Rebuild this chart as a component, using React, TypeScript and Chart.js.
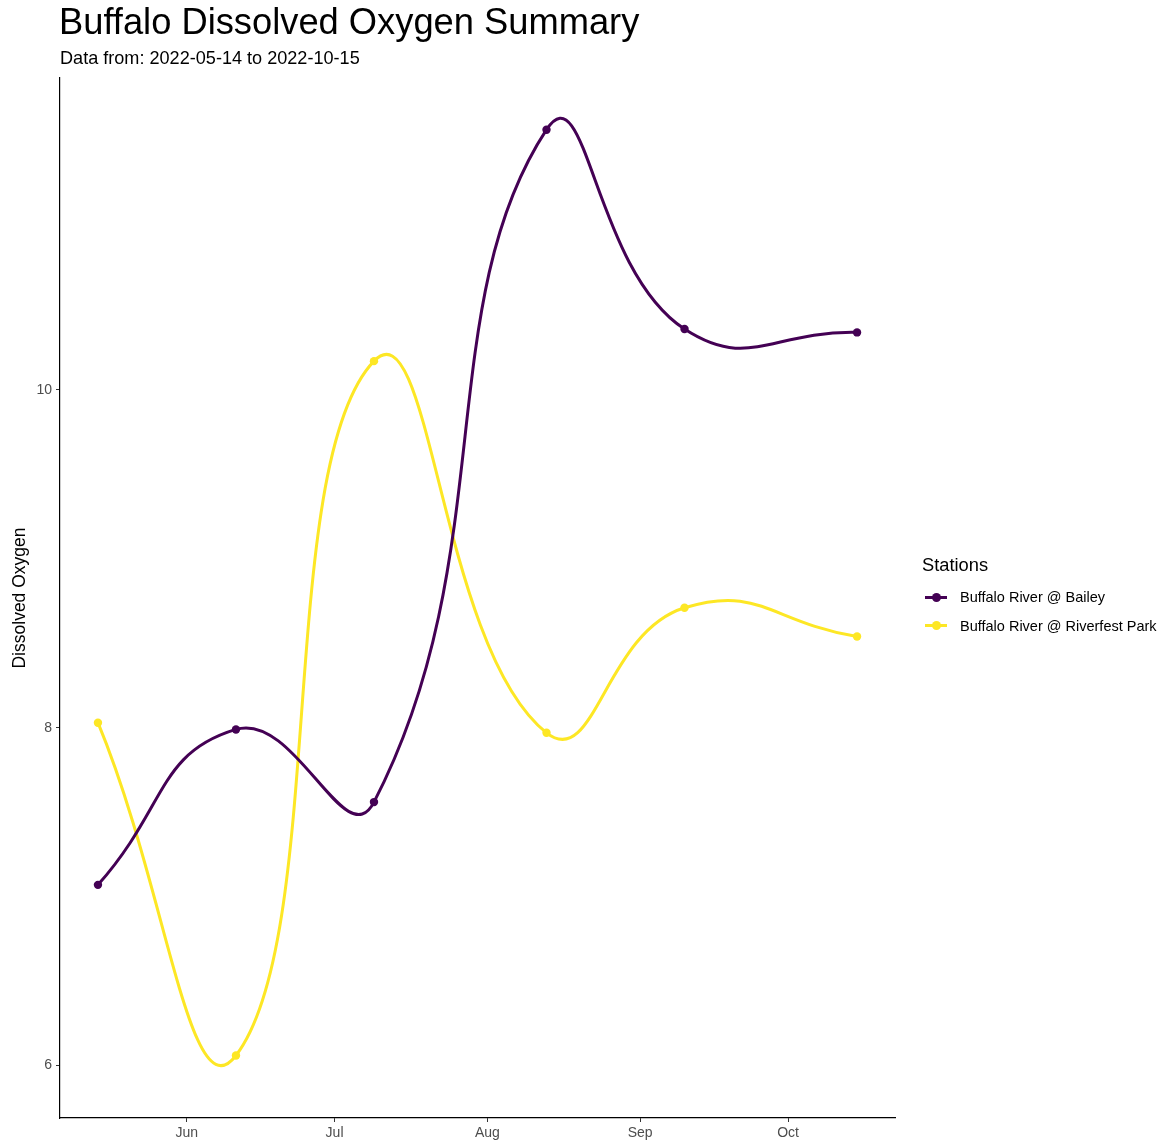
import React, { useEffect, useRef } from "react";
import { Chart, registerables } from "chart.js";

Chart.register(...registerables);

// Day-of-year (2022) for each sample date
const sampleDays = [134, 162, 190, 225, 253, 288]; // 05-14, 06-11, 07-09, 08-13, 09-10, 10-15
const baileyValues = [7.07, 7.99, 7.56, 11.54, 10.36, 10.34];
const riverfestValues = [8.03, 6.06, 10.17, 7.97, 8.71, 8.54];
const monthTickDays = [152, 182, 213, 244, 274];
const monthTickLabels = ["Jun", "Jul", "Aug", "Sep", "Oct"];
const yTickValues = [6, 8, 10];

const seriesNames = ["Buffalo River @ Bailey", "Buffalo River @ Riverfest Park"];
const seriesColors = ["#440154", "#FDE725"];

const FONT = "'Liberation Sans', Arial, Helvetica, sans-serif";

export default function App() {
  const canvasRef = useRef<HTMLCanvasElement | null>(null);

  useEffect(() => {
    const canvas = canvasRef.current;
    if (!canvas) return;
    const seriesValues = [baileyValues, riverfestValues];
    const chart = new Chart(canvas, {
      type: "line",
      data: {
        datasets: seriesNames.map((name, i) => ({
          label: name,
          data: sampleDays.map((d, j) => ({ x: d, y: seriesValues[i][j] })),
          borderColor: seriesColors[i],
          backgroundColor: seriesColors[i],
          pointBackgroundColor: seriesColors[i],
          pointBorderColor: seriesColors[i],
          pointRadius: 4.2,
          pointBorderWidth: 0,
          borderWidth: 3,
          tension: 0.5,
          fill: false,
        })),
      },
      options: {
        animation: false,
        responsive: false,
        maintainAspectRatio: false,
        layout: { padding: { top: 78, right: 267, left: 0, bottom: 0 } },
        plugins: {
          legend: { display: false },
          title: { display: false },
          tooltip: { enabled: false },
        },
        elements: { line: { capBezierPoints: false } },
        scales: {
          x: {
            type: "linear",
            min: 126.3,
            max: 295.7,
            afterBuildTicks: (scale: any) => {
              scale.ticks = monthTickDays.map((v) => ({ value: v }));
            },
            afterFit: (scale: any) => {
              scale.height = 23;
            },
            ticks: {
              autoSkip: false,
              maxRotation: 0,
              padding: 3,
              color: "#4d4d4d",
              font: { family: FONT, size: 14 },
              callback: (value: any) => {
                const idx = monthTickDays.indexOf(Number(value));
                return idx >= 0 ? monthTickLabels[idx] : "";
              },
            },
            grid: {
              drawOnChartArea: false,
              drawTicks: true,
              tickLength: 4,
              color: "#333333",
            },
            border: { display: true, color: "#000000", width: 1.2 },
          },
          y: {
            type: "linear",
            min: 5.69,
            max: 11.846,
            afterBuildTicks: (scale: any) => {
              scale.ticks = yTickValues.map((v) => ({ value: v }));
            },
            afterFit: (scale: any) => {
              scale.width = 60;
            },
            title: {
              display: true,
              text: "Dissolved Oxygen",
              color: "#000000",
              font: { family: FONT, size: 17.5 },
              padding: { top: 10, bottom: 0 },
            },
            ticks: {
              padding: 4,
              color: "#4d4d4d",
              font: { family: FONT, size: 14 },
            },
            grid: {
              drawOnChartArea: false,
              drawTicks: true,
              tickLength: 4,
              color: "#333333",
            },
            border: { display: true, color: "#000000", width: 1.2 },
          },
        },
      },
    });
    return () => chart.destroy();
  }, []);

  return (
    <div
      style={{
        position: "absolute",
        left: 0,
        top: 0,
        width: 1162,
        height: 1141,
        background: "#ffffff",
        fontFamily: FONT,
      }}
    >
      <canvas
        ref={canvasRef}
        width={1162}
        height={1141}
        style={{ position: "absolute", left: 0, top: 0, width: 1162, height: 1141 }}
      />
      <div
        style={{
          position: "absolute",
          left: 59,
          top: 4,
          fontSize: 36.3,
          lineHeight: "36px",
          color: "#000",
          whiteSpace: "nowrap",
        }}
      >
        Buffalo Dissolved Oxygen Summary
      </div>
      <div
        style={{
          position: "absolute",
          left: 60,
          top: 49,
          fontSize: 18.1,
          lineHeight: "18px",
          color: "#000",
          whiteSpace: "nowrap",
        }}
      >
        Data from: 2022-05-14 to 2022-10-15
      </div>
      <div
        style={{
          position: "absolute",
          left: 922,
          top: 556,
          fontSize: 18.3,
          lineHeight: "18px",
          color: "#000",
          whiteSpace: "nowrap",
        }}
      >
        Stations
      </div>
      {seriesNames.map((name, i) => (
        <div key={name}>
          <div
            style={{
              position: "absolute",
              left: 925,
              top: 597 + i * 28.5 - 1.5,
              width: 22,
              height: 3,
              background: seriesColors[i],
            }}
          />
          <div
            style={{
              position: "absolute",
              left: 931.5,
              top: 597 + i * 28.5 - 4.5,
              width: 9,
              height: 9,
              borderRadius: 4.5,
              background: seriesColors[i],
            }}
          />
          <div
            style={{
              position: "absolute",
              left: 960,
              top: 597 + i * 28.5 - 8,
              fontSize: 14.5,
              lineHeight: "16px",
              color: "#000",
              whiteSpace: "nowrap",
            }}
          >
            {name}
          </div>
        </div>
      ))}
    </div>
  );
}
